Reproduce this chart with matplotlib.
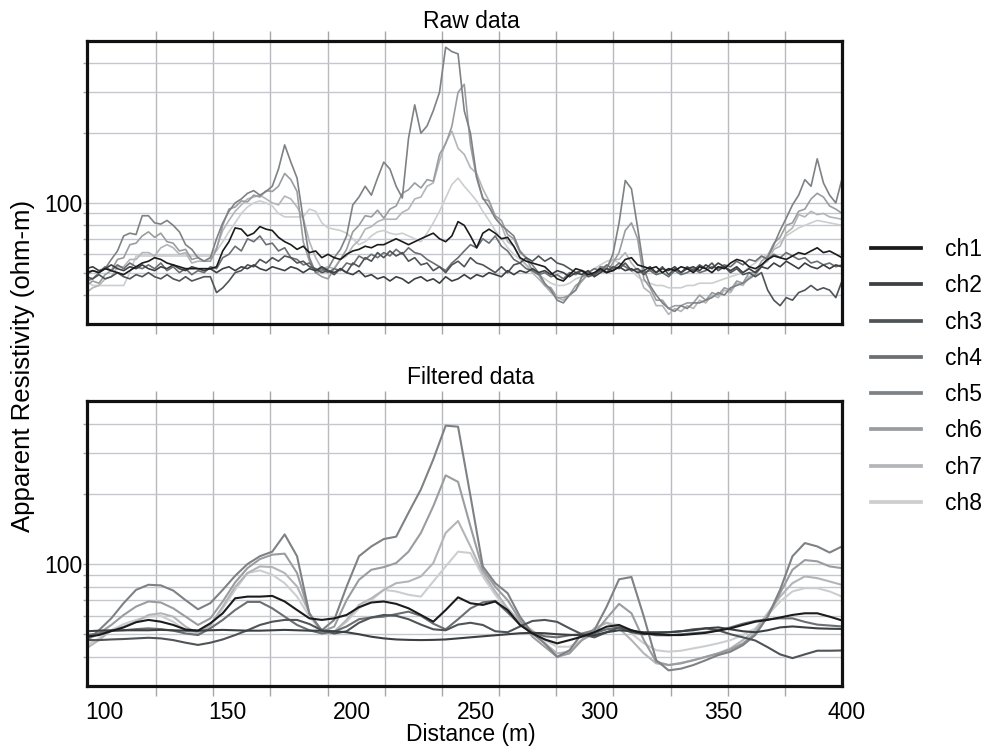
import numpy as np
import matplotlib
matplotlib.use("Agg")
import matplotlib.pyplot as plt
import matplotlib.transforms as mtransforms
from matplotlib.lines import Line2D
from matplotlib.ticker import NullFormatter

plt.rcParams["font.family"] = ["Liberation Sans", "DejaVu Sans"]

# --- distance grids (m) ---
DIST_RAW = np.arange(95, 400.1, 2.5)    # raw samples every 2.5 m
DIST_FILT = np.arange(95, 400.1, 5.0)   # filtered curve every 5 m

CHANNELS = ["ch1", "ch2", "ch3", "ch4", "ch5", "ch6", "ch7", "ch8"]
COLORS = ["#1b1b1b", "#3b4043", "#4f5457", "#6b6f72",
          "#7e8285", "#9a9da0", "#b3b5b8", "#cdcecf"]

# --- raw apparent resistivity (ohm-m) ---
raw_ch1 = [50, 51, 50, 52, 51, 50, 49, 51, 53, 55,
           56, 58, 57, 55, 54, 53, 52, 52, 52, 52,
           52, 53, 62, 68, 78, 77, 72, 74, 79, 77,
           76, 71, 68, 66, 63, 65, 61, 62, 58, 60,
           58, 57, 60, 62, 63, 65, 64, 66, 66, 68,
           70, 68, 66, 68, 70, 72, 74, 70, 68, 72,
           83, 80, 72, 64, 74, 77, 74, 70, 71, 65,
           58, 56, 55, 54, 53, 50, 47, 46, 49, 52,
           51, 49, 50, 52, 50, 51, 53, 57, 58, 54,
           53, 52, 53, 50, 52, 51, 53, 52, 50, 53,
           52, 50, 53, 52, 55, 57, 56, 53, 52, 54,
           57, 59, 58, 57, 59, 61, 60, 62, 64, 61,
           62, 60, 58]
raw_ch2 = [52, 53, 51, 52, 54, 52, 51, 53, 52, 54,
           52, 51, 53, 52, 54, 52, 51, 53, 52, 51,
           52, 50, 52, 53, 51, 53, 52, 54, 52, 51,
           53, 52, 51, 53, 52, 50, 52, 51, 53, 51,
           50, 52, 50, 49, 51, 48, 49, 47, 48, 46,
           48, 47, 45, 47, 48, 46, 47, 45, 48, 46,
           47, 49, 47, 49, 48, 50, 49, 48, 51, 49,
           51, 50, 52, 50, 51, 49, 51, 50, 48, 50,
           49, 51, 48, 50, 52, 51, 53, 51, 52, 50,
           51, 53, 50, 52, 51, 53, 50, 52, 53, 51,
           54, 52, 55, 53, 51, 53, 50, 52, 50, 53,
           52, 55, 53, 56, 54, 52, 55, 53, 52, 54,
           52, 54, 53]
raw_ch3 = [48, 47, 49, 47, 48, 50, 48, 47, 49, 48,
           50, 48, 47, 49, 47, 46, 48, 46, 47, 48,
           48, 41, 43, 46, 50, 51, 54, 53, 57, 55,
           58, 56, 59, 58, 55, 56, 53, 52, 50, 51,
           49, 52, 50, 55, 53, 58, 56, 61, 58, 62,
           59, 61, 56, 58, 54, 55, 51, 53, 50, 54,
           56, 53, 58, 55, 54, 52, 50, 53, 50, 54,
           55, 58, 56, 59, 56, 58, 55, 54, 52, 50,
           51, 48, 49, 51, 50, 53, 52, 55, 51, 52,
           49, 52, 50, 53, 49, 52, 50, 53, 51, 54,
           52, 55, 51, 53, 50, 52, 49, 50, 48, 50,
           42, 38, 36, 39, 38, 41, 42, 44, 42, 43,
           42, 39, 46]
raw_ch4 = [49, 51, 50, 53, 51, 54, 52, 55, 53, 52,
           54, 52, 55, 51, 53, 50, 52, 49, 51, 50,
           53, 52, 58, 60, 65, 62, 70, 68, 72, 66,
           67, 62, 64, 58, 57, 54, 55, 51, 52, 50,
           52, 51, 55, 54, 59, 57, 60, 58, 61, 59,
           63, 60, 64, 61, 60, 57, 55, 53, 51, 55,
           58, 62, 66, 64, 70, 67, 72, 65, 62, 57,
           55, 52, 51, 49, 50, 48, 49, 47, 50, 49,
           51, 50, 52, 51, 54, 52, 55, 53, 51, 52,
           50, 51, 49, 50, 48, 51, 49, 50, 52, 50,
           51, 53, 52, 54, 53, 56, 54, 57, 56, 59,
           57, 60, 58, 61, 59, 57, 58, 55, 56, 54,
           55, 53, 54]
raw_ch5 = [46, 47, 50, 52, 57, 62, 72, 74, 73, 88,
           88, 82, 81, 84, 80, 75, 66, 63, 58, 56,
           58, 70, 82, 92, 100, 104, 110, 113, 108, 112,
           118, 140, 178, 150, 128, 85, 58, 50, 51, 52,
           58, 63, 72, 98, 106, 118, 108, 128, 150, 140,
           118, 105, 190, 265, 200, 215, 250, 300, 470, 450,
           440, 250, 200, 130, 105, 96, 86, 80, 76, 72,
           62, 58, 54, 50, 45, 42, 38, 37, 40, 42,
           48, 50, 49, 53, 52, 60, 82, 125, 115, 78,
           52, 44, 40, 37, 35, 34, 36, 35, 37, 37,
           38, 39, 41, 40, 43, 44, 45, 47, 49, 53,
           58, 66, 76, 86, 98, 108, 126, 118, 155, 122,
           108, 100, 127]
raw_ch6 = [44, 46, 45, 49, 51, 57, 58, 66, 67, 72,
           75, 71, 74, 68, 67, 62, 63, 57, 58, 56,
           56, 63, 80, 94, 96, 102, 101, 108, 106, 113,
           112, 118, 134, 126, 112, 68, 56, 50, 48, 47,
           52, 57, 63, 75, 80, 88, 87, 93, 86, 94,
           97, 110, 114, 122, 116, 126, 124, 162, 180, 214,
           300, 325, 178, 128, 104, 102, 88, 84, 73, 70,
           61, 58, 51, 49, 44, 43, 39, 39, 40, 44,
           46, 50, 49, 53, 50, 55, 61, 76, 82, 70,
           47, 43, 38, 38, 35, 36, 36, 37, 37, 40,
           38, 41, 40, 43, 42, 46, 45, 50, 50, 56,
           59, 67, 71, 80, 82, 92, 94, 104, 110, 106,
           97, 94, 90]
raw_ch7 = [41, 43, 44, 47, 48, 53, 53, 57, 57, 61,
           61, 59, 64, 66, 64, 60, 61, 55, 56, 56,
           58, 64, 76, 84, 92, 98, 104, 106, 108, 104,
           100, 98, 107, 104, 96, 86, 68, 58, 52, 53,
           52, 57, 59, 65, 69, 77, 79, 83, 85, 85,
           85, 91, 94, 104, 106, 118, 122, 152, 182, 204,
           172, 162, 142, 134, 115, 102, 86, 80, 68, 65,
           58, 54, 50, 47, 44, 41, 39, 38, 40, 42,
           46, 49, 49, 53, 53, 57, 57, 61, 55, 51,
           43, 41, 36, 36, 33, 35, 34, 36, 35, 38,
           37, 40, 39, 42, 41, 45, 44, 48, 49, 54,
           56, 63, 65, 74, 78, 89, 87, 92, 89, 90,
           87, 86, 85]
raw_ch8 = [46, 44, 44, 44, 44, 44, 44, 50, 59, 59,
           59, 59, 59, 59, 59, 59, 59, 59, 59, 59,
           59, 62, 68, 75, 82, 90, 96, 100, 102, 100,
           97, 90, 87, 87, 87, 87, 94, 92, 82, 78,
           77, 76, 74, 70, 66, 68, 72, 75, 76, 74,
           73, 74, 72, 70, 68, 74, 82, 92, 105, 120,
           128, 118, 110, 102, 92, 84, 76, 70, 64, 60,
           57, 54, 52, 49, 47, 45, 44, 44, 45, 47,
           48, 50, 52, 54, 56, 57, 55, 53, 51, 48,
           46, 45, 44, 44, 43, 43, 43, 44, 44, 45,
           45, 45, 46, 47, 48, 49, 50, 53, 55, 58,
           60, 64, 68, 72, 75, 78, 80, 82, 84, 83,
           82, 81, 80]

# --- filtered apparent resistivity (ohm-m) ---
filt_ch1 = [48.8, 49.6, 51.6, 53.5, 56.3, 57.6, 56.6, 54.8, 52.4, 51.8,
            55.7, 61.5, 71.3, 72.5, 72.5, 73, 69.1, 63.5, 58.5, 57.6,
            58.5, 60.5, 65.3, 68.4, 69.1, 67.5, 64.6, 60.5, 56.6, 63.5,
            72, 67.9, 66.8, 69.1, 63.5, 54.8, 50.4, 47.5, 45.7, 47.2,
            48.8, 51, 53.9, 54.8, 52, 50.4, 50, 49.6, 49.6, 50.1,
            50.7, 51.8, 53, 54.8, 56.6, 57.6, 59, 60.5, 61.5, 61.5,
            59.5, 57.3]
filt_ch2 = [51.5, 51.8, 52, 52, 52, 52, 52.2, 52, 51.8, 51.8,
            52, 52.2, 52, 51.8, 51.8, 52, 52.2, 52, 51.8, 51.8,
            51.5, 51, 50, 48.8, 48, 47.5, 47.3, 47.2, 47.3, 47.5,
            48, 48.5, 49, 49.5, 50, 50.5, 50.7, 50.5, 50, 49.7,
            49.5, 49.5, 51, 52, 51.5, 51, 51, 51, 51.5, 52,
            53, 53.5, 52.5, 51.5, 51, 52, 53.5, 54, 53.5, 53,
            52.8, 52.7]
filt_ch3 = [47.2, 47.2, 47.5, 47.7, 48, 48.3, 48, 47.2, 46, 45,
            46, 47.5, 49.6, 52, 54.8, 56.6, 57.6, 57.6, 55.3, 52,
            50.4, 51.5, 56, 59, 60.5, 60, 58, 55, 52.5, 52,
            55, 56, 54.8, 51.5, 51, 54, 57, 57.6, 56.5, 53,
            50, 48.5, 51, 53.5, 51, 50, 50.5, 51, 51.5, 52.5,
            53, 52, 50, 48.5, 47, 44, 41, 39.5, 41, 42.5,
            42.5, 42.6]
filt_ch4 = [49.6, 50.4, 51.6, 52, 52.6, 53, 52.6, 51.8, 50.4, 49.6,
            53, 57.6, 63.5, 68.8, 68.8, 64.6, 59.5, 54.8, 52, 50.4,
            51.3, 54, 58, 59, 59.5, 61, 62.5, 60, 55.5, 52.5,
            58, 64.5, 68.5, 69.5, 62, 55, 51, 49, 48.5, 49.5,
            50, 50.5, 52.5, 53.5, 52, 50.5, 49.5, 49.5, 50, 50.5,
            51, 52, 53.5, 55.5, 57, 58, 58.5, 58.5, 56.5, 55,
            54.5, 54]
filt_ch5 = [47, 52, 58.5, 68, 77.5, 81.5, 81, 77, 70, 64,
            68, 77.5, 89, 100, 108, 113, 134, 108, 61, 52,
            57.6, 80, 108, 119, 128, 131, 166, 209, 281, 392,
            388, 196, 97.7, 82.8, 75, 59.5, 50.4, 45.7, 40, 42.7,
            50.4, 52, 65.7, 86, 88, 59.5, 38.7, 35, 35.6, 36.9,
            38.7, 40.7, 42.1, 44.9, 49.6, 59.5, 77.5, 108, 123, 119,
            112, 119]
filt_ch6 = [47.2, 50.4, 54.8, 60.5, 65.7, 69.1, 68.4, 64.6, 59.5, 54.8,
            58.5, 69.1, 83.4, 96.1, 105, 109.7, 110.8, 91.5, 61.5, 51.3,
            53.9, 70, 85.6, 94.5, 97, 101, 113, 136, 177, 240,
            225, 145, 94.5, 80, 70, 57.6, 48.8, 44.2, 40, 41.4,
            47.2, 50.4, 58.5, 67.5, 61.5, 47.2, 38.1, 36.9, 37.5, 38.7,
            40, 41.4, 43, 45.7, 50.4, 59.5, 75, 94.5, 104, 102.7,
            97.7, 96]
filt_ch7 = [43.5, 47.2, 52, 54, 56.6, 60.5, 61.5, 59.5, 53.9, 50.4,
            54.8, 65.7, 79.8, 91.5, 97.7, 97, 91.5, 80.1, 61.5, 51.3,
            51.3, 57.6, 66.8, 71.3, 77.5, 82.8, 84.2, 88.5, 101, 136,
            153, 119, 91.5, 76.3, 64.6, 56.6, 51.3, 45.7, 41.4, 42.1,
            47.2, 53, 56, 53, 47.2, 41.4, 37.5, 36.9, 37.7, 38.7,
            40, 41.4, 43.5, 47.2, 52, 61.5, 72.5, 82.8, 88.5, 87,
            84.2, 81.4]
filt_ch8 = [44.9, 48, 52, 55.3, 57.6, 59.5, 59.9, 56.6, 52, 49.6,
            53.9, 64.6, 77.5, 91.5, 93.9, 90, 82.8, 72.5, 59.5, 51.3,
            51.3, 56.6, 64.6, 70, 77.5, 76.3, 73.8, 72.5, 84.2, 97.7,
            113, 111.5, 88.5, 73.8, 63.5, 56.6, 52, 47.2, 44.2, 44.2,
            47.2, 52.5, 56, 54.8, 50.4, 45.7, 42.7, 42.1, 42.5, 43.5,
            44.5, 45.7, 47.2, 49.6, 53, 60.5, 69, 76.3, 78.8, 78.8,
            76.3, 72.5]

RAW = [raw_ch1, raw_ch2, raw_ch3, raw_ch4, raw_ch5, raw_ch6, raw_ch7, raw_ch8]
FILT = [filt_ch1, filt_ch2, filt_ch3, filt_ch4, filt_ch5, filt_ch6, filt_ch7, filt_ch8]

XLABEL_TICKS = [100, 150, 200, 250, 300, 350, 400]
XGRID_TICKS = np.linspace(100, 400, 14)   # grid/tick marks of the original plot
YMINOR = [40, 50, 60, 70, 80, 90, 200, 300, 400]

GRID_C = "#c6c7cc"

fig = plt.figure(figsize=(9.88, 7.47), dpi=100)
ax_raw = fig.add_axes([87/988, 1 - 324/747, 755/988, 283/747])
ax_flt = fig.add_axes([87/988, 1 - 686/747, 755/988, 285/747])


def style(ax):
    ax.set_yscale("log")
    ax.set_xlim(95.2, 400)
    ax.set_ylim(30, 500)
    ax.set_xticks(XLABEL_TICKS)
    ax.set_xticks(XGRID_TICKS, minor=True)
    ax.set_yticks([100])
    ax.set_yticklabels(["100"])
    ax.set_yticks(YMINOR, minor=True)
    ax.yaxis.set_minor_formatter(NullFormatter())
    ax.tick_params(axis="x", which="major", length=0, labelsize=16.5, pad=11)
    ax.tick_params(axis="x", which="minor", length=7, width=1.0, color="#a5a6ab",
                   direction="out", top=True, bottom=True)
    ax.tick_params(axis="y", which="both", length=3, width=1.0, color="#a5a6ab",
                   labelsize=16.5, pad=0)
    ax.xaxis.grid(True, which="minor", color="#b9bac0", lw=1.0)
    ax.xaxis.grid(False, which="major")
    ax.yaxis.grid(True, which="both", color=GRID_C, lw=1.0)
    ax.set_axisbelow(True)
    for s in ax.spines.values():
        s.set_linewidth(2.3)
        s.set_color("#111111")


for i in reversed(range(8)):
    ax_raw.plot(DIST_RAW, RAW[i], color=COLORS[i], lw=1.2)
    ax_flt.plot(DIST_FILT, FILT[i], color=COLORS[i], lw=1.5, solid_joinstyle="round")

style(ax_raw)
style(ax_flt)
ax_raw.tick_params(axis="x", labelbottom=False)

# the original labels sit a few pixels right of their ticks
shift = mtransforms.ScaledTranslation(0.05, 0, fig.dpi_scale_trans)
for lab in ax_flt.get_xticklabels():
    lab.set_transform(lab.get_transform() + shift)

fig.text(471/988, 1 - 28/747, "Raw data", ha="center", va="baseline", fontsize=16.5)
fig.text(471/988, 1 - 384/747, "Filtered data", ha="center", va="baseline", fontsize=16.5)
fig.text(471/988, 1 - 741/747, "Distance (m)", ha="center", va="baseline", fontsize=16.5)
fig.text(23/988, 1 - 366/747, "Apparent Resistivity (ohm-m)", rotation=90,
         ha="center", va="center", fontsize=18.5)

handles = [Line2D([], [], color=c, lw=2.7) for c in COLORS]
fig.legend(handles, CHANNELS, loc="upper left", bbox_to_anchor=(871/988, 1 - 238/747),
           frameon=False, fontsize=16.5, handlelength=2.2, handletextpad=1.05,
           labelspacing=0.58, borderpad=0, borderaxespad=0)

fig.savefig("out.png", dpi=100)
